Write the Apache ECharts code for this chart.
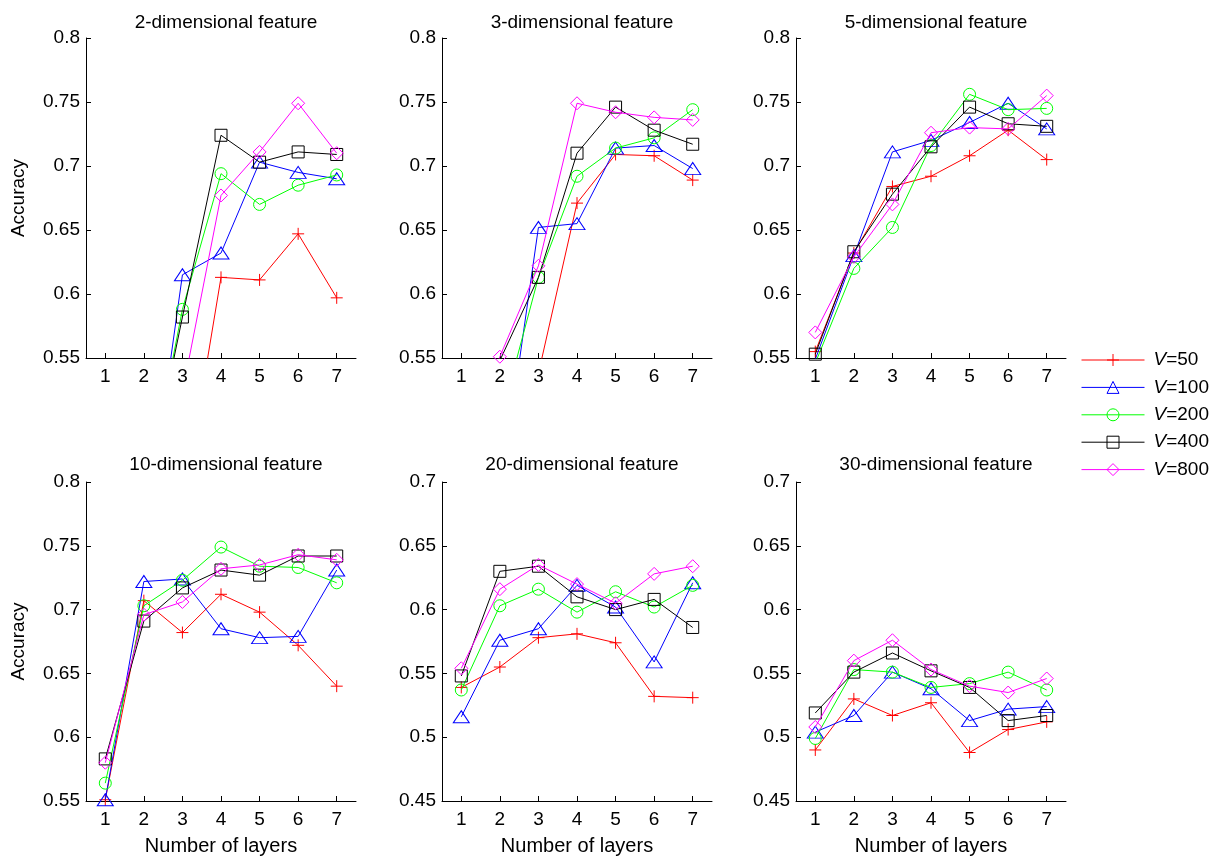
<!DOCTYPE html>
<html>
<head>
<meta charset="utf-8">
<script src="https://cdn.jsdelivr.net/npm/echarts@6/dist/echarts.min.js"></script>
<style>
html,body{margin:0;padding:0;background:#fff;}
#chart{width:1215px;height:857px;}
</style>
</head>
<body>
<div id="chart"></div>
<script>
// ---- data ----
const layers = ['1', '2', '3', '4', '5', '6', '7'];
const seriesNames = ['V=50', 'V=100', 'V=200', 'V=400', 'V=800'];
const panelTitles = ['2-dimensional feature', '3-dimensional feature', '5-dimensional feature',
                     '10-dimensional feature', '20-dimensional feature', '30-dimensional feature'];
const yMinTop = 0.55, yMaxTop = 0.8;
const yMinBottom = [0.55, 0.45, 0.45];
const yMaxBottom = [0.8, 0.7, 0.7];

// rows: V=50, V=100, V=200, V=400, V=800
const acc2 = [
  [0.400, 0.420, 0.431, 0.613, 0.611, 0.647, 0.597],
  [0.380, 0.399, 0.615, 0.632, 0.703, 0.695, 0.690],
  [0.400, 0.433, 0.588, 0.694, 0.670, 0.685, 0.693],
  [0.410, 0.436, 0.582, 0.724, 0.703, 0.711, 0.709],
  [0.450, 0.480, 0.523, 0.677, 0.711, 0.749, 0.710]
];
const acc3 = [
  [0.400, 0.450, 0.538, 0.671, 0.709, 0.708, 0.689],
  [0.400, 0.441, 0.652, 0.655, 0.714, 0.716, 0.698],
  [0.420, 0.500, 0.613, 0.692, 0.714, 0.722, 0.744],
  [0.450, 0.548, 0.613, 0.710, 0.746, 0.728, 0.717],
  [0.470, 0.551, 0.622, 0.749, 0.742, 0.738, 0.736]
];
const acc5 = [
  [0.555, 0.632, 0.684, 0.692, 0.708, 0.728, 0.705],
  [0.549, 0.630, 0.711, 0.720, 0.734, 0.749, 0.729],
  [0.546, 0.620, 0.652, 0.716, 0.756, 0.744, 0.745],
  [0.553, 0.633, 0.678, 0.715, 0.746, 0.733, 0.731],
  [0.570, 0.629, 0.670, 0.726, 0.730, 0.729, 0.755]
];
const acc10 = [
  [0.551, 0.707, 0.682, 0.712, 0.698, 0.672, 0.640],
  [0.551, 0.722, 0.724, 0.685, 0.678, 0.679, 0.731],
  [0.564, 0.703, 0.723, 0.749, 0.734, 0.733, 0.721],
  [0.583, 0.691, 0.717, 0.731, 0.727, 0.742, 0.742],
  [0.580, 0.696, 0.706, 0.732, 0.735, 0.743, 0.739]
];
const acc20 = [
  [0.539, 0.555, 0.578, 0.581, 0.574, 0.532, 0.531],
  [0.516, 0.576, 0.585, 0.619, 0.602, 0.559, 0.621],
  [0.537, 0.603, 0.616, 0.598, 0.614, 0.602, 0.619],
  [0.548, 0.630, 0.634, 0.610, 0.600, 0.608, 0.586],
  [0.554, 0.616, 0.635, 0.620, 0.605, 0.628, 0.634]
];
const acc30 = [
  [0.490, 0.530, 0.517, 0.527, 0.488, 0.506, 0.512],
  [0.504, 0.517, 0.551, 0.538, 0.513, 0.522, 0.524],
  [0.499, 0.553, 0.551, 0.539, 0.542, 0.551, 0.537],
  [0.519, 0.551, 0.566, 0.552, 0.539, 0.513, 0.517],
  [0.508, 0.560, 0.576, 0.553, 0.540, 0.535, 0.546]
];

// ---- styling ----
const panels = [acc2, acc3, acc5, acc10, acc20, acc30];
const colors = ['#ff0000', '#0000ff', '#00ff00', '#000000', '#ff00ff'];
const symbols = ['path://M6,0 L6,12 M0,6 L12,6', 'triangle', 'circle', 'rect', 'diamond'];
const symbolSizes = [12, [16, 12], 12, 12, 13];
const FONT = 'Liberation Sans, Arial, Helvetica, sans-serif';

const colLeft = [86, 442, 796];
const rowTop = [38, 482];
const gridW = 270, gridH = 320;

const grids = [], xAxes = [], yAxes = [], titles = [], series = [];
for (let p = 0; p < 6; p++) {
  const r = Math.floor(p / 3), c = p % 3;
  grids.push({ left: colLeft[c], top: rowTop[r], width: gridW, height: r === 0 ? gridH : 319, containLabel: false });
  titles.push({
    text: panelTitles[p], left: colLeft[c] + gridW / 2, top: r === 0 ? 8 : 450, textAlign: 'center',
    textStyle: { fontFamily: FONT, fontSize: 19, fontWeight: 'normal', color: '#000' }
  });
  xAxes.push({
    type: 'category', gridIndex: p, data: layers, boundaryGap: true,
    name: r === 1 ? 'Number of layers' : '', nameLocation: 'middle', nameGap: 35,
    nameTextStyle: { fontFamily: FONT, fontSize: 20, color: '#000' },
    axisLine: { show: true, lineStyle: { color: '#000', width: 1 } },
    axisTick: { show: true, inside: true, alignWithLabel: true, length: 5, lineStyle: { color: '#000' } },
    axisLabel: { fontFamily: FONT, fontSize: 19, color: '#000', margin: 9 },
    splitLine: { show: false }
  });
  const ymin = r === 0 ? yMinTop : yMinBottom[c];
  const ymax = r === 0 ? yMaxTop : yMaxBottom[c];
  yAxes.push({
    type: 'value', gridIndex: p, min: ymin, max: ymax, interval: 0.05,
    name: c === 0 ? 'Accuracy' : '', nameLocation: 'middle', nameGap: 58, nameRotate: 90,
    nameTextStyle: { fontFamily: FONT, fontSize: 19, color: '#000' },
    axisLine: { show: true, lineStyle: { color: '#000', width: 1 } },
    axisTick: { show: true, inside: true, length: 5, lineStyle: { color: '#000' } },
    axisLabel: { fontFamily: FONT, fontSize: 19, color: '#000', margin: 6,
      formatter: v => String(parseFloat(v.toFixed(2))) },
    splitLine: { show: false }
  });
  for (let s = 0; s < 5; s++) {
    series.push({
      type: 'line', name: seriesNames[s], xAxisIndex: p, yAxisIndex: p,
      data: panels[p][s],
      symbol: symbols[s], symbolSize: symbolSizes[s], showAllSymbol: true,
      clip: true,
      lineStyle: { color: colors[s], width: 1 },
      itemStyle: { color: 'transparent', borderColor: colors[s], borderWidth: 1 },
      emphasis: { disabled: true },
      silent: true, animation: false, z: 2 + s
    });
  }
}

const option = {
  backgroundColor: '#fff',
  animation: false,
  title: titles,
  grid: grids,
  xAxis: xAxes,
  yAxis: yAxes,
  legend: {
    orient: 'vertical', left: 1076, top: 345.5,
    data: seriesNames,
    itemWidth: 63, itemHeight: 15, itemGap: 8.4,
    itemStyle: { borderWidth: 1 },
    lineStyle: { width: 1 },
    selectedMode: false,
    formatter: n => '{i|V}{n|' + n.slice(1) + '}',
    textStyle: {
      fontFamily: FONT, fontSize: 19, color: '#000', padding: [0, 0, 0, 4], lineHeight: 15,
      rich: {
        i: { fontFamily: FONT, fontSize: 19, fontStyle: 'italic', color: '#000', lineHeight: 15 },
        n: { fontFamily: FONT, fontSize: 19, color: '#000', lineHeight: 15 }
      }
    }
  },
  series: series
};

const chart = echarts.init(document.getElementById('chart'), null, { renderer: 'canvas' });
chart.setOption(option);
</script>
</body>
</html>
